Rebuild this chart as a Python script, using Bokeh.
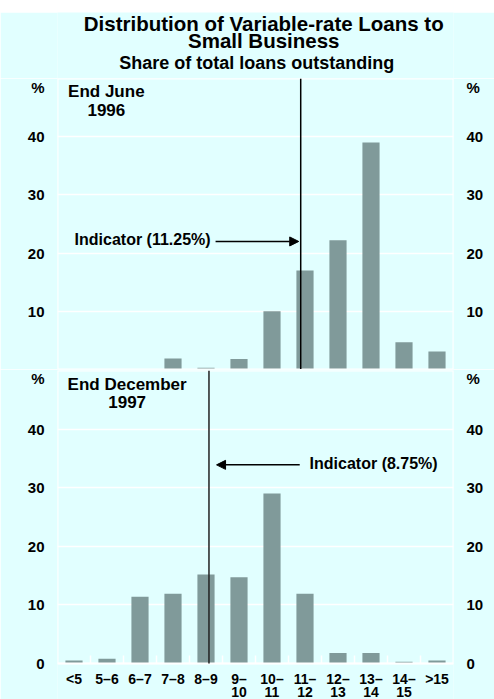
from bokeh.plotting import figure
from bokeh.models import (FixedTicker, LinearAxis, Label, Span, Arrow, NormalHead,
                          Range1d, Spacer, ColumnDataSource)
from bokeh.core.properties import value
from bokeh.layouts import column
from bokeh.embed import file_html
from bokeh.resources import INLINE

# ---------------- data ----------------
categories = ["<5", "5–6", "6–7", "7–8", "8–9", "9–\n10", "10–\n11", "11–\n12",
              "12–\n13", "13–\n14", "14–\n15", ">15"]
share_jun_1996 = [0.0, 0.0, 0.0, 1.9, 0.3, 1.8, 10.0, 17.0, 22.2, 39.0, 4.7, 3.1]
share_dec_1997 = [0.5, 0.8, 11.4, 11.9, 15.2, 14.7, 29.0, 11.9, 1.8, 1.8, 0.3, 0.5]
indicator_rate = [11.25, 8.75]
indicator_pos = [6.87, 4.09]          # position on the category axis
panel_names = [("End June", "1996"), ("End December", "1997")]
title_lines = ["Distribution of Variable-rate Loans to", "Small Business"]
subtitle = "Share of total loans outstanding"
y_ticks_top = [10, 20, 30, 40]
y_ticks_bottom = [0, 10, 20, 30, 40]
Y_MAX = 50
UNIT_POS = 49

BG = "#E1FFFF"
BAR = "#809A9A"
FONT = "Liberation Sans"

x_idx = list(range(len(categories)))
XR = Range1d(-0.5, len(categories) - 0.5)

# bottom panel: the frame also holds the category labels below zero
PANEL_PX = 293                      # pixel height of the 0..50 band
BOT_FRAME_PX = 329                  # frame height incl. label band
unit = Y_MAX / PANEL_PX             # data units per pixel
bot_ymin = Y_MAX - BOT_FRAME_PX * unit


def style_axis(ax, ticks):
    ax.ticker = FixedTicker(ticks=ticks + [UNIT_POS])
    ax.major_label_overrides = {UNIT_POS: "%"}
    ax.axis_line_color = None
    ax.major_tick_line_color = None
    ax.minor_tick_line_color = None
    ax.major_label_text_font = FONT
    ax.major_label_text_font_style = "bold"
    ax.major_label_text_font_size = "15px"
    ax.major_label_text_color = "black"
    ax.major_label_standoff = 7


def blank_fig(height, yr):
    p = figure(width=494, height=height, x_range=XR, y_range=Range1d(0, yr),
               output_backend="svg", toolbar_location=None,
               x_axis_location=None, y_axis_location=None,
               min_border_left=57, min_border_right=41,
               min_border_top=0, min_border_bottom=0)
    p.background_fill_color = BG
    p.border_fill_color = BG
    p.outline_line_color = None
    p.grid.visible = False
    return p


def make_panel(height, min_top, ymin, values, yticks):
    p = figure(width=494, height=height, x_range=XR, y_range=Range1d(ymin, Y_MAX),
               output_backend="svg", toolbar_location=None, x_axis_location=None,
               min_border_left=57, min_border_right=41,
               min_border_top=min_top, min_border_bottom=0)
    p.background_fill_color = BG
    p.border_fill_color = BG
    p.outline_line_color = None
    style_axis(p.yaxis[0], yticks)
    right = LinearAxis()
    style_axis(right, yticks)
    p.add_layout(right, "right")
    p.ygrid.ticker = FixedTicker(ticks=yticks)
    p.ygrid.grid_line_color = "white"
    p.ygrid.grid_line_width = 1.5
    p.xgrid.visible = False
    src = ColumnDataSource(dict(x=x_idx, top=values))
    p.vbar(x="x", top="top", width=0.52, source=src, fill_color=BAR, line_color=None)
    # white panel border around the 0..50 band
    p.quad(left=XR.start, right=XR.end, bottom=0, top=Y_MAX, fill_color=None,
           line_color="white", line_width=2)
    return p


def txt(p, x, y, s, size="15px", align="center"):
    p.add_layout(Label(x=x, y=y, text=s, text_align=align, text_baseline="middle",
                       text_font=FONT, text_font_style="bold", text_font_size=size,
                       text_color="black"))


# ---------------- title strip ----------------
ttl = blank_fig(66, 66)
txt(ttl, 5.75, 55.5, title_lines[0], "20.5px")
txt(ttl, 5.75, 38.0, title_lines[1], "20.5px")
txt(ttl, 5.54, 15.5, subtitle, "18px")

# ---------------- top panel ----------------
top = make_panel(291, 0, 0, share_jun_1996, y_ticks_top)
txt(top, 0.98, 47.7, panel_names[0][0], "17px")
txt(top, 0.98, 44.6, panel_names[0][1], "17px")
top.add_layout(Span(location=indicator_pos[0], dimension="height",
                    line_color="black", line_width=1.5))
txt(top, 4.14, 22.3, f"Indicator ({indicator_rate[0]:.2f}%)", "16px", "right")
top.add_layout(Arrow(end=NormalHead(size=9, fill_color="black", line_color="black"),
                     x_start=4.29, y_start=22.0, x_end=indicator_pos[0] - 0.06, y_end=22.0,
                     line_color="black", line_width=1.5))

# ---------------- bottom panel ----------------
bot = make_panel(330, 1, bot_ymin, share_dec_1997, y_ticks_bottom)
# category separators rising from the baseline
bounds = [i + 0.5 for i in x_idx[:-1]]
bot.segment(x0=bounds, y0=[0] * len(bounds), x1=bounds, y1=[8 * unit] * len(bounds),
            line_color="white", line_width=1.5)
txt(bot, 1.61, 47.6, panel_names[1][0], "17px")
txt(bot, 1.61, 44.7, panel_names[1][1], "17px")
bot.segment(x0=[indicator_pos[1]], y0=[0], x1=[indicator_pos[1]], y1=[Y_MAX],
            line_color="#222222", line_width=1.5)
txt(bot, 7.14, 34.2, f"Indicator ({indicator_rate[1]:.2f}%)", "16px", "left")
bot.add_layout(Arrow(end=NormalHead(size=9, fill_color="black", line_color="black"),
                     x_start=6.84, y_start=33.9, x_end=indicator_pos[1] + 0.23, y_end=33.9,
                     line_color="black", line_width=1.5))

# category labels (two rows) under the baseline
row1 = [c.split("\n")[0] for c in categories]
row2 = [c.split("\n")[1] if "\n" in c else "" for c in categories]
lsrc = ColumnDataSource(dict(x=x_idx, r1=row1, r2=row2))
for col, off_px in (("r1", 15), ("r2", 28.5)):
    bot.text(x="x", y=-off_px * unit, text=col, source=lsrc, text_align="center",
             text_baseline="middle", text_font=value(FONT), text_font_style="bold",
             text_font_size="14px", text_color="black")

layout = column(Spacer(width=494, height=12), ttl, top, bot)
open("out.html", "w").write(file_html(layout, INLINE))
